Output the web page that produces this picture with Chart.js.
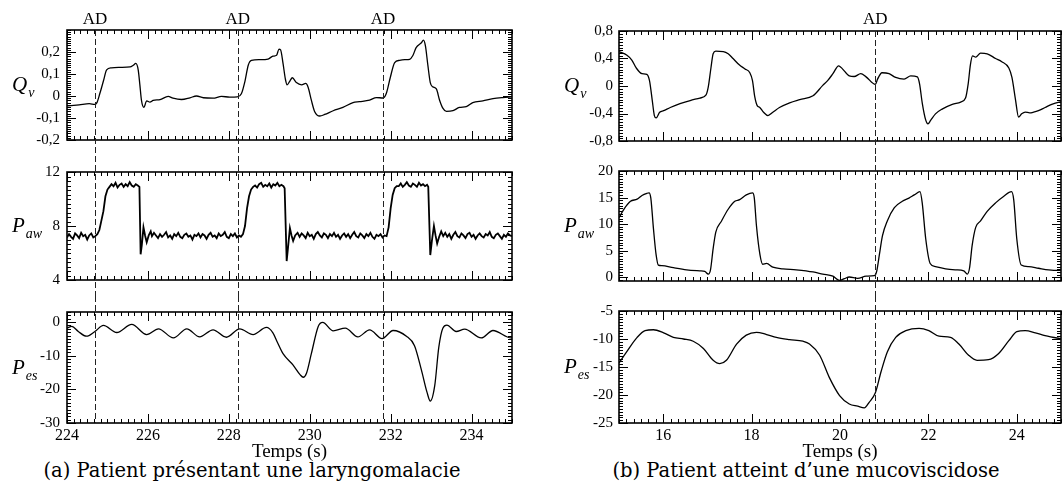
<!DOCTYPE html>
<html>
<head>
<meta charset="utf-8">
<script src="https://cdn.jsdelivr.net/npm/chart.js@4.4.0/dist/chart.umd.min.js"></script>
<style>
  body { margin: 0; background: #fff; width: 1062px; height: 488px; position: relative; overflow: hidden; }
  canvas { position: absolute; }
  .caption { position: absolute; top: 460px; line-height: 22px; font-family: "DejaVu Serif", serif; font-size: 19.5px;
             text-align: center; color: #000; white-space: nowrap; }
</style>
</head>
<body>
<div class="caption" style="left:0;width:504px">(a) Patient présentant une laryngomalacie</div>
<div class="caption" style="left:550px;width:512px">(b) Patient atteint d’une mucoviscidose</div>
<script>
'use strict';

// ---- (a) laryngomalacie ----
const tQa = [224.00, 224.30, 224.55, 224.69, 224.74, 224.81, 224.90, 224.98, 225.10, 225.31, 225.56, 225.64, 225.70, 225.76,
  225.80, 225.84, 225.90, 225.97, 226.05, 226.13, 226.30, 226.50, 226.62, 226.83, 227.04, 227.20, 227.37, 227.61, 227.82,
  228.02, 228.21, 228.31, 228.40, 228.48, 228.56, 228.77, 228.97, 229.09, 229.18, 229.24, 229.28, 229.34, 229.40, 229.44,
  229.51, 229.57, 229.67, 229.80, 229.90, 229.96, 230.04, 230.12, 230.25, 230.37, 230.58, 230.82, 231.07, 231.23, 231.48,
  231.65, 231.81, 231.89, 231.99, 232.10, 232.22, 232.35, 232.47, 232.55, 232.63, 232.76, 232.81, 232.86, 232.92, 232.98,
  233.04, 233.13, 233.21, 233.29, 233.38, 233.54, 233.70, 233.87, 234.03, 234.28, 234.53, 234.77, 235.00];
const qa = [-0.045, -0.040, -0.035, -0.038, -0.030, 0.010, 0.068, 0.119, 0.128, 0.130, 0.132, 0.140, 0.148, 0.119,
  0.053, -0.019, -0.052, -0.022, -0.028, -0.020, -0.016, -0.002, -0.010, -0.016, -0.008, 0.000, -0.008, -0.010, -0.002,
  -0.005, -0.004, 0.010, 0.068, 0.140, 0.162, 0.165, 0.168, 0.181, 0.185, 0.213, 0.210, 0.148, 0.075, 0.051,
  0.068, 0.083, 0.061, 0.051, 0.057, 0.040, -0.019, -0.070, -0.091, -0.084, -0.067, -0.052, -0.030, -0.026, -0.019,
  -0.007, -0.009, 0.010, 0.083, 0.152, 0.162, 0.165, 0.167, 0.184, 0.220, 0.242, 0.254, 0.228, 0.140, 0.061,
  0.042, 0.032, -0.019, -0.055, -0.070, -0.067, -0.052, -0.048, -0.030, -0.022, -0.012, -0.007, -0.004];

const tPawA = [
  224.00, 224.05, 224.10, 224.15, 224.20, 224.25, 224.30, 224.35, 224.40, 224.45, 224.50, 224.55, 224.60, 224.65, 224.70,
  224.75, 224.80, 224.85, 224.90, 224.95, 225.00,
  225.05, 225.10, 225.15, 225.20, 225.25, 225.30, 225.35, 225.40, 225.45, 225.50, 225.55, 225.60, 225.65, 225.70, 225.75,
  225.79, 225.82, 225.85, 225.89, 225.93, 225.97, 226.02, 226.07,
  226.10, 226.15, 226.20, 226.25, 226.30, 226.35, 226.40, 226.45, 226.50, 226.55,
  226.60, 226.65, 226.70, 226.75, 226.80, 226.85, 226.90, 226.95, 227.00, 227.05,
  227.10, 227.15, 227.20, 227.25, 227.30, 227.35, 227.40, 227.45, 227.50, 227.55,
  227.60, 227.65, 227.70, 227.75, 227.80, 227.85, 227.90, 227.95, 228.00, 228.05,
  228.10, 228.15, 228.20, 228.25, 228.30,
  228.35, 228.40, 228.45, 228.50, 228.55, 228.60,
  228.65, 228.70, 228.75, 228.80, 228.85, 228.90, 228.95, 229.00, 229.05, 229.10, 229.15, 229.20, 229.25, 229.30, 229.35,
  229.38, 229.43, 229.47, 229.51, 229.55, 229.59, 229.64, 229.70,
  229.75, 229.80, 229.85, 229.90, 229.95, 230.00, 230.05, 230.10, 230.15, 230.20,
  230.25, 230.30, 230.35, 230.40, 230.45, 230.50, 230.55, 230.60, 230.65, 230.70,
  230.75, 230.80, 230.85, 230.90, 230.95, 231.00, 231.05, 231.10, 231.15, 231.20,
  231.25, 231.30, 231.35, 231.40, 231.45, 231.50, 231.55, 231.60, 231.65, 231.70,
  231.75, 231.80, 231.85, 231.90,
  231.95, 232.00, 232.05, 232.10, 232.15,
  232.20, 232.25, 232.30, 232.35, 232.40, 232.45, 232.50, 232.55, 232.60, 232.65, 232.70, 232.75, 232.80, 232.85, 232.90,
  232.93, 232.98, 233.02, 233.07, 233.11, 233.15, 233.20, 233.25,
  233.30, 233.35, 233.40, 233.45, 233.50, 233.55, 233.60, 233.65, 233.70, 233.75,
  233.80, 233.85, 233.90, 233.95, 234.00, 234.05, 234.10, 234.15, 234.20, 234.25,
  234.30, 234.35, 234.40, 234.45, 234.50, 234.55, 234.60, 234.65, 234.70, 234.75,
  234.80, 234.85, 234.90, 234.95, 235.00];
const pawA = [
  7.15, 7.40, 7.20, 7.05, 7.45, 7.30, 7.10, 7.50, 7.25, 7.35, 7.00, 7.30, 7.45, 7.15, 7.25,
  7.40, 7.70, 8.40, 9.10, 10.20, 10.70,
  10.90, 11.10, 10.95, 11.20, 10.85, 11.05, 11.15, 10.90, 11.10, 10.95, 11.25, 11.00, 10.90, 11.10, 11.00,
  10.90, 5.90, 6.60, 7.90, 7.30, 6.80, 7.30, 7.60,
  7.25, 7.50, 7.30, 7.10, 7.40, 7.20, 7.35, 7.55, 7.15, 7.30,
  7.05, 7.40, 7.25, 7.50, 7.20, 7.10, 7.35, 7.45, 7.20, 7.30,
  7.00, 7.35, 7.25, 7.45, 7.15, 7.40, 7.30, 7.05, 7.35, 7.50,
  7.20, 7.30, 7.10, 7.45, 7.25, 7.35, 7.55, 7.20, 7.10, 7.40,
  7.25, 7.45, 7.15, 7.30, 7.20,
  7.40, 8.00, 9.30, 10.20, 10.70, 10.90,
  11.00, 10.85, 11.10, 11.20, 10.90, 11.05, 10.95, 11.15, 10.85, 11.10, 11.00, 11.20, 10.95, 11.05, 10.95,
  10.80, 5.40, 6.60, 7.85, 7.30, 6.90, 7.30, 7.50,
  7.20, 7.45, 7.30, 7.10, 7.50, 7.25, 7.35, 7.05, 7.40, 7.55,
  7.30, 7.15, 7.45, 7.35, 7.10, 7.40, 7.25, 7.50, 7.20, 7.35,
  7.05, 7.30, 7.45, 7.20, 7.40, 7.10, 7.35, 7.55, 7.25, 7.15,
  7.45, 7.30, 7.10, 7.40, 7.25, 7.50, 7.20, 7.05, 7.35, 7.25,
  7.40, 7.15, 7.30, 7.25,
  7.90, 9.30, 10.30, 10.80, 10.95,
  10.95, 11.15, 10.90, 11.05, 11.25, 11.00, 10.90, 11.15, 11.05, 10.90, 11.20, 11.00, 11.10, 10.95, 11.05,
  10.90, 5.85, 6.90, 8.00, 7.30, 6.70, 7.20, 7.60,
  7.25, 7.50, 7.20, 7.40, 7.05, 7.35, 7.55, 7.25, 7.15, 7.45,
  7.30, 7.10, 7.40, 7.50, 7.20, 7.35, 7.05, 7.30, 7.45, 7.25,
  7.15, 7.40, 7.30, 7.55, 7.20, 7.10, 7.35, 7.45, 7.25, 7.05,
  7.35, 7.20, 7.45, 7.30, 7.25];

const tPesA = [224.00, 224.12, 224.28, 224.48, 224.69, 224.90, 225.23, 225.60, 225.97, 226.26, 226.63, 226.96, 227.28,
  227.61, 227.94, 228.27, 228.60, 228.93, 229.09, 229.20, 229.34, 229.59, 229.76, 229.84, 229.92, 230.04, 230.21, 230.32,
  230.58, 230.88, 231.19, 231.48, 231.79, 232.06, 232.39, 232.59, 232.76, 232.90, 232.98, 233.09, 233.19, 233.29, 233.39,
  233.62, 233.83, 234.24, 234.53, 234.98, 235.00];
const pesA = [-1.8, -1.3, -2.8, -4.2, -2.8, -1.0, -3.1, -0.7, -3.7, -2.0, -4.7, -2.0, -4.4,
  -2.3, -4.5, -2.0, -3.7, -1.6, -3.2, -6.0, -9.4, -12.8, -15.6, -16.4, -15.2, -9.4, -1.3, -0.1,
  -2.6, -1.8, -4.4, -2.3, -4.9, -2.5, -4.2, -7.0, -14.2, -20.9, -23.5, -18.9, -7.5, -1.8, -0.9,
  -2.8, -2.1, -4.7, -2.5, -4.7, -4.6];

const adA = [224.69, 228.22, 231.81];
const xTicksA = [224, 226, 228, 230, 232, 234];
const yTicksQa = [-0.2, -0.1, 0, 0.1, 0.2];
const yTicksPawA = [4, 8, 12];
const yTicksPesA = [-30, -20, -10, 0];

// ---- (b) mucoviscidose ----
const tQb = [15.00, 15.18, 15.29, 15.39, 15.52, 15.63, 15.69, 15.75, 15.80, 15.84, 15.92, 16.01, 16.16, 16.38, 16.61,
  16.83, 16.97, 17.02, 17.08, 17.13, 17.19, 17.36, 17.47, 17.58, 17.72, 17.85, 17.96, 18.02, 18.07, 18.13, 18.18, 18.27,
  18.37, 18.48, 18.63, 18.86, 19.09, 19.39, 19.61, 19.72, 19.84, 19.97, 20.05, 20.21, 20.32, 20.47, 20.59, 20.80, 20.85,
  20.95, 21.11, 21.26, 21.45, 21.60, 21.75, 21.80, 21.86, 21.94, 21.99, 22.05, 22.16, 22.31, 22.54, 22.73, 22.84, 22.90,
  22.95, 23.00, 23.07, 23.18, 23.33, 23.52, 23.66, 23.82, 23.89, 23.97, 24.04, 24.11, 24.19, 24.29, 24.38, 24.49, 24.64,
  24.79, 24.96, 25.00];
const qb = [0.50, 0.446, 0.377, 0.262, 0.18, 0.17, 0.078, -0.197, -0.43, -0.465, -0.382, -0.359, -0.313, -0.258, -0.211,
  -0.175, -0.129, -0.014, 0.262, 0.469, 0.506, 0.50, 0.469, 0.40, 0.308, 0.248, 0.193, 0.078, -0.152, -0.29, -0.31, -0.382,
  -0.43, -0.382, -0.313, -0.244, -0.197, -0.142, 0.009, 0.078, 0.179, 0.294, 0.253, 0.147, 0.138, 0.179, 0.133, 0.023, 0.10,
  0.193, 0.179, 0.124, 0.101, 0.147, 0.133, 0.032, -0.244, -0.497, -0.552, -0.50, -0.405, -0.336, -0.267, -0.234, -0.175, 0.032,
  0.308, 0.437, 0.42, 0.478, 0.469, 0.40, 0.354, 0.262, 0.124, -0.197, -0.451, -0.405, -0.38, -0.39, -0.38, -0.359, -0.313,
  -0.267, -0.234, -0.23];

const tPawB = [15.00, 15.11, 15.26, 15.41, 15.52, 15.63, 15.68, 15.72, 15.78, 15.84, 15.89, 15.97, 16.23, 16.53, 16.83,
  16.94, 17.02, 17.07, 17.13, 17.19, 17.32, 17.47, 17.62, 17.73, 17.88, 18.02, 18.06, 18.11, 18.19, 18.25, 18.34, 18.48,
  18.71, 19.01, 19.39, 19.61, 19.84, 19.99, 20.10, 20.21, 20.40, 20.59, 20.78, 20.83, 20.89, 20.96, 21.07, 21.23, 21.41,
  21.56, 21.68, 21.81, 21.86, 21.94, 22.04, 22.16, 22.39, 22.61, 22.80, 22.88, 22.93, 22.99, 23.07, 23.18, 23.33, 23.52,
  23.70, 23.88, 23.93, 24.00, 24.10, 24.27, 24.49, 24.72, 24.96, 25.00];
const pawB = [11.2, 12.8, 14.3, 14.7, 15.4, 15.8, 15.9, 14.9, 9.1, 4.2, 2.3, 2.2, 1.8, 1.4, 1.2,
  1.1, 0.6, 1.4, 5.4, 8.5, 10.6, 12.8, 14.3, 14.6, 15.5, 15.9, 15.0, 9.7, 4.2, 2.45, 2.6, 1.9,
  1.6, 1.4, 1.0, 0.6, 0.2, -0.6, -0.26, 0.05, -0.2, 0.2, 0.3, 1.1, 4.2, 7.8, 10.6, 13.1, 14.3,
  14.9, 15.5, 16.1, 14.0, 7.2, 2.6, 2.0, 1.6, 1.4, 1.2, 0.6, 1.7, 6.0, 9.4, 10.6, 12.4, 14.0,
  15.2, 16.1, 14.6, 7.2, 2.3, 2.0, 1.7, 1.4, 1.3, 1.3];

const tPesB = [15.00, 15.18, 15.41, 15.59, 15.78, 16.01, 16.23, 16.46, 16.68, 16.91, 17.13, 17.28, 17.43, 17.66, 17.88,
  18.11, 18.34, 18.56, 18.86, 19.16, 19.31, 19.54, 19.76, 19.99, 20.21, 20.40, 20.55, 20.66, 20.80, 20.93, 21.07, 21.26,
  21.49, 21.79, 22.01, 22.24, 22.50, 22.69, 22.91, 23.10, 23.36, 23.59, 23.82, 24.00, 24.19, 24.42, 24.64, 24.96, 25.00];
const pesB = [-14.3, -12.2, -9.7, -8.5, -8.35, -8.9, -9.7, -10.0, -10.4, -11.7, -13.8, -14.4, -13.8, -10.9, -9.3,
  -8.8, -9.2, -9.7, -10.1, -10.4, -10.9, -12.9, -16.9, -20.1, -21.6, -22.0, -22.3, -21.3, -19.6, -15.8, -12.3, -9.7,
  -8.5, -8.1, -8.5, -9.5, -9.7, -10.9, -12.9, -13.8, -13.7, -12.6, -10.3, -8.7, -8.5, -8.9, -9.4, -9.9, -9.95];

const adB = [20.8];
const xTicksB = [16, 18, 20, 22, 24];
const yTicksQb = [-0.8, -0.4, 0, 0.4, 0.8];
const yTicksPawB = [0, 5, 10, 15, 20];
const yTicksPesB = [-25, -20, -15, -10, -5];

const serif = '"Liberation Serif", serif';
Chart.defaults.font.family = serif;
Chart.defaults.color = '#000';

// ---- layout ----
const cols = {
  a: { left: 0, width: 530, yWidth: 67, padRight: 18, labelPad: 7, xMin: 224, xMax: 235, xTicks: xTicksA, ad: adA,
       areas: [[30, 145], [168, 284], [307, 423]] },
  b: { left: 530, width: 532, yWidth: 89, padRight: 1, labelPad: 6, xMin: 15, xMax: 25, xTicks: xTicksB, ad: adB,
       areas: [[31, 145], [170, 283], [308, 423]] }
};
const rows = [{ top: 0, height: 156 }, { top: 156, height: 140 }, { top: 296, height: 192 }];

function minorValues(min, max, step) {
  const out = [];
  for (let k = Math.ceil(min / step - 1e-6); k * step <= max + 1e-9; k++) out.push(k * step);
  return out;
}

function commaFmt(v) {
  return String(Math.round(v * 100) / 100).replace('.', ',');
}

// frame, inward ticks, AD markers and the axis symbol
const framePlugin = {
  id: 'frame',
  afterDraw(chart, args, o) {
    const { ctx, chartArea: a, scales: { x, y } } = chart;
    ctx.save();
    ctx.strokeStyle = '#000';
    ctx.lineWidth = 1;
    const tick = (vals, len) => {
      ctx.beginPath();
      for (const v of vals) {
        const p = Math.round(x.getPixelForValue(v)) + 0.5;
        ctx.moveTo(p, a.bottom); ctx.lineTo(p, a.bottom - len);
        ctx.moveTo(p, a.top); ctx.lineTo(p, a.top + len);
      }
      ctx.stroke();
    };
    const ytick = (vals, len) => {
      ctx.beginPath();
      for (const v of vals) {
        const p = Math.round(y.getPixelForValue(v)) + 0.5;
        ctx.moveTo(a.left, p); ctx.lineTo(a.left + len, p);
        ctx.moveTo(a.right, p); ctx.lineTo(a.right - len, p);
      }
      ctx.stroke();
    };
    tick(minorValues(x.min, x.max, o.xMinor), 4);
    tick(o.xTicks, 9);
    ytick(minorValues(y.min, y.max, o.yMinor), 4);
    ytick(o.yTicks, 9);

    ctx.lineWidth = 1.6;
    ctx.strokeRect(a.left, a.top, a.right - a.left, a.bottom - a.top);

    // dashed AD lines run through all three panels
    ctx.lineWidth = 1;
    ctx.strokeStyle = '#222';
    ctx.setLineDash([6, 3]);
    const y0 = o.row === 0 ? a.top : 0;
    const y1 = o.row === 2 ? a.bottom : chart.height;
    for (const t of o.ad) {
      const p = Math.round(x.getPixelForValue(t)) + 0.5;
      ctx.beginPath(); ctx.moveTo(p, y0); ctx.lineTo(p, y1); ctx.stroke();
    }
    ctx.setLineDash([]);

    ctx.fillStyle = '#000';
    if (o.row === 0) {
      ctx.font = '17px ' + serif;
      ctx.textAlign = 'center';
      ctx.textBaseline = 'alphabetic';
      for (const t of o.ad) ctx.fillText('AD', x.getPixelForValue(t), 24);
    }

    // symbol with subscript, e.g. Q_v
    const cy = (a.top + a.bottom) / 2;
    const lx = a.left - 55;
    ctx.textAlign = 'left';
    ctx.textBaseline = 'alphabetic';
    ctx.font = 'italic 21px ' + serif;
    ctx.fillText(o.sym, lx, cy + 6);
    const w = ctx.measureText(o.sym).width;
    ctx.font = 'italic 14px ' + serif;
    ctx.fillText(o.sub, lx + w + 1, cy + 12);
    ctx.restore();
  }
};

function panel(col, row, s) {
  const c = cols[col], r = rows[row], area = c.areas[row];
  const last = row === 2;
  const cv = document.createElement('canvas');
  cv.width = c.width;
  cv.height = r.height;
  cv.style.left = c.left + 'px';
  cv.style.top = r.top + 'px';
  document.body.appendChild(cv);

  const xAxisH = last ? 40 : 0;
  new Chart(cv, {
    type: 'line',
    data: {
      datasets: [{
        data: s.t.map((t, i) => ({ x: t, y: s.v[i] })),
        borderColor: '#000',
        borderWidth: s.noisy ? 1.8 : 1.3,
        pointRadius: 0,
        cubicInterpolationMode: s.noisy ? 'default' : 'monotone',
        tension: s.noisy ? 0 : 0.4,
        fill: false
      }]
    },
    options: {
      responsive: false,
      animation: false,
      events: [],
      layout: {
        autoPadding: false,
        padding: { top: area[0] - r.top, bottom: r.top + r.height - area[1] - xAxisH, left: 0, right: c.padRight }
      },
      plugins: {
        legend: { display: false },
        tooltip: { enabled: false },
        frame: { row: row, ad: c.ad, xTicks: c.xTicks, xMinor: 2 / 12, yTicks: s.yTicks, yMinor: s.yMinor, sym: s.sym, sub: s.sub }
      },
      scales: {
        x: {
          type: 'linear',
          min: c.xMin,
          max: c.xMax,
          display: last,
          grid: { display: false, drawTicks: false },
          border: { display: false },
          afterBuildTicks: (sc) => { sc.ticks = c.xTicks.map(v => ({ value: v })); },
          afterFit: (sc) => { sc.height = xAxisH; },
          ticks: { autoSkip: false, maxRotation: 0, padding: 3, font: { size: 16 }, callback: (v) => String(v) },
          title: { display: true, text: 'Temps (s)', font: { size: 19 }, padding: { top: 0, bottom: 0 } }
        },
        y: {
          min: s.yMin,
          max: s.yMax,
          grid: { display: false, drawTicks: false },
          border: { display: false },
          afterBuildTicks: (sc) => { sc.ticks = s.yTicks.map(v => ({ value: v })); },
          afterFit: (sc) => { sc.width = c.yWidth; },
          ticks: { autoSkip: false, padding: c.labelPad, font: { size: 15 }, callback: (v) => commaFmt(v) }
        }
      }
    },
    plugins: [framePlugin]
  });
}

panel('a', 0, { t: tQa, v: qa, yMin: -0.2, yMax: 0.3, yTicks: yTicksQa, yMinor: 0.01, sym: 'Q', sub: 'v' });
panel('a', 1, { t: tPawA, v: pawA, yMin: 4, yMax: 12, yTicks: yTicksPawA, yMinor: 1 / 3, sym: 'P', sub: 'aw', noisy: true });
panel('a', 2, { t: tPesA, v: pesA, yMin: -30, yMax: 3, yTicks: yTicksPesA, yMinor: 1, sym: 'P', sub: 'es' });
panel('b', 0, { t: tQb, v: qb, yMin: -0.8, yMax: 0.8, yTicks: yTicksQb, yMinor: 0.04, sym: 'Q', sub: 'v' });
panel('b', 1, { t: tPawB, v: pawB, yMin: -0.7, yMax: 20, yTicks: yTicksPawB, yMinor: 0.5, sym: 'P', sub: 'aw' });
panel('b', 2, { t: tPesB, v: pesB, yMin: -25, yMax: -5, yTicks: yTicksPesB, yMinor: 0.5, sym: 'P', sub: 'es' });
</script>
</body>
</html>
